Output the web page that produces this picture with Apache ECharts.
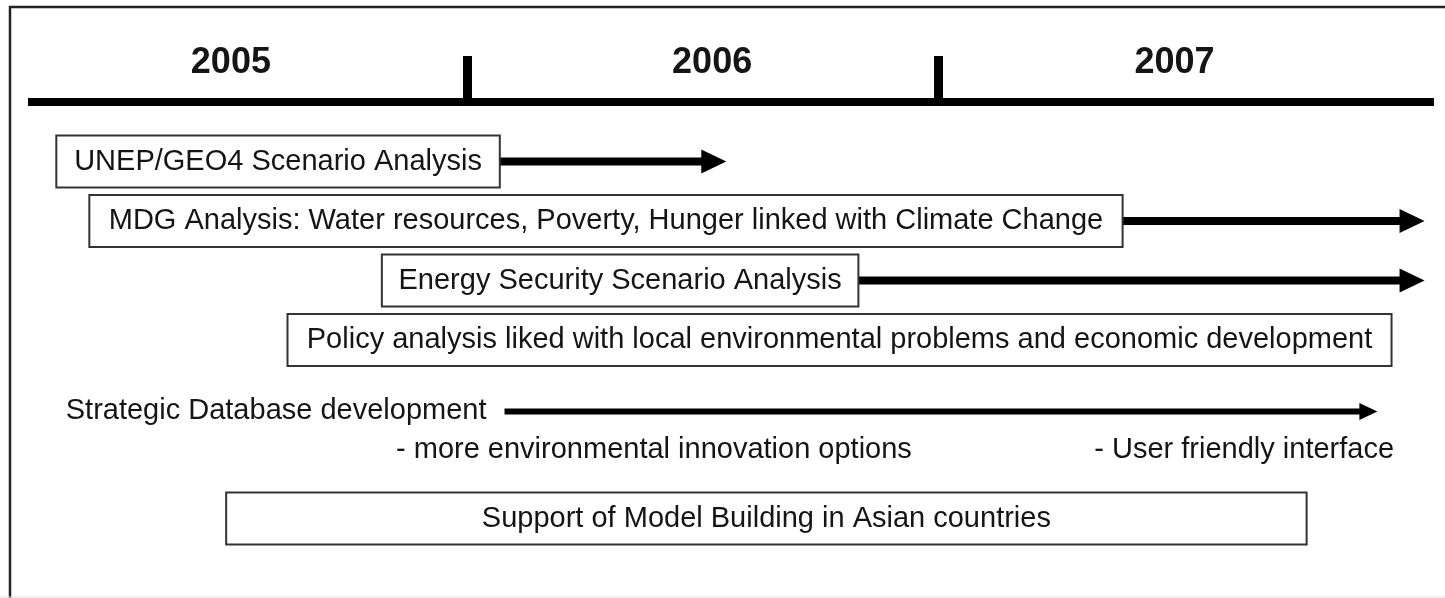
<!doctype html>
<html>
    <head>
        <meta charset="utf-8">
        <style>
            html, body { margin: 0; padding: 0; background: #fff; }
            #main { width: 1445px; height: 598px; }
        </style>
    </head>
    <body>
        <div id="main"></div>
        <script src="https://cdn.jsdelivr.net/npm/echarts@6/dist/echarts.min.js"></script>
        <script>
            // timeline axis, in fractional years
            var axisRange = [2005.07, 2008.05];
            var yearTicks = [2006, 2007];
            var yearLabels = ['2005', '2006', '2007'];
            var yearLabelPos = [2005.5, 2006.52, 2007.5];
            var yearLabelLane = -0.66;

            // boxed activities
            var taskNames = [
                'UNEP/GEO4 Scenario Analysis',
                'MDG Analysis: Water resources, Poverty, Hunger linked with Climate Change',
                'Energy Security Scenario Analysis',
                'Policy analysis liked with local environmental problems and economic development',
                'Support of Model Building in Asian countries'
            ];
            var taskLane = [1, 2, 3, 4, 7];
            var taskStart = [2005.13, 2005.2, 2005.82, 2005.62, 2005.49];
            var taskEnd = [2006.07, 2007.39, 2006.83, 2007.96, 2007.78];
            var taskArrowEnd = [2006.55, 2008.03, 2008.03, null, null];

            // database row
            var dbLabel = 'Strategic Database development';
            var dbLane = 5.2;
            var dbLabelStart = 2005.15;
            var dbArrow = [2006.08, 2007.93];
            var noteTexts = ['- more environmental innovation options', '- User friendly interface'];
            var notePos = [2005.85, 2007.33];
            var noteLane = 5.85;

            var FAMILY = '"Liberation Sans", Arial, sans-serif';
            var FONT = '29px ' + FAMILY;
            var INK = '#151515';

            function arrowShape(x0, x1, y, t, headLen, headHalf) {
                var xh = x1 - headLen;
                return {
                    type: 'polygon',
                    shape: {
                        points: [
                            [x0, y - t / 2], [xh, y - t / 2], [xh, y - headHalf], [x1, y],
                            [xh, y + headHalf], [xh, y + t / 2], [x0, y + t / 2]
                        ]
                    },
                    style: { fill: '#000' }
                };
            }

            var taskData = [];
            for (var i = 0; i < taskNames.length; i++) {
                taskData.push([taskStart[i], taskEnd[i], taskLane[i]]);
            }

            function renderTask(params, api) {
                var i = params.dataIndex;
                var lane = api.value(2);
                var p0 = api.coord([api.value(0), lane]);
                var p1 = api.coord([api.value(1), lane]);
                var h = 52;
                var children = [];
                if (taskArrowEnd[i] != null) {
                    var pe = api.coord([taskArrowEnd[i], lane]);
                    children.push(arrowShape(p1[0], pe[0], p1[1], 8, 25, 12));
                }
                children.push({
                    type: 'rect',
                    shape: { x: p0[0], y: p0[1] - h / 2, width: p1[0] - p0[0], height: h },
                    style: { fill: '#fff', stroke: '#333', lineWidth: 2 }
                });
                children.push({
                    type: 'text',
                    style: {
                        text: taskNames[i], x: (p0[0] + p1[0]) / 2, y: p0[1],
                        align: 'center', verticalAlign: 'middle', font: FONT, fill: INK
                    }
                });
                return { type: 'group', children: children };
            }

            function renderDb(params, api) {
                var pl = api.coord([api.value(0), api.value(3)]);
                var pa = api.coord([api.value(1), api.value(3)]);
                var pb = api.coord([api.value(2), api.value(3)]);
                return {
                    type: 'group',
                    children: [
                        {
                            type: 'text',
                            style: {
                                text: dbLabel, x: pl[0], y: pl[1],
                                align: 'left', verticalAlign: 'middle', font: FONT, fill: INK
                            }
                        },
                        arrowShape(pa[0], pb[0], pa[1], 6, 18, 8.5)
                    ]
                };
            }

            function renderNote(params, api) {
                var p = api.coord([api.value(0), api.value(1)]);
                return {
                    type: 'text',
                    style: {
                        text: noteTexts[params.dataIndex], x: p[0], y: p[1],
                        align: 'left', verticalAlign: 'middle', font: FONT, fill: INK
                    }
                };
            }

            function renderYear(params, api) {
                var p = api.coord([api.value(0), api.value(1)]);
                return {
                    type: 'text',
                    style: {
                        text: yearLabels[params.dataIndex], x: p[0], y: p[1],
                        align: 'center', verticalAlign: 'middle',
                        font: 'bold 36px ' + FAMILY, fill: INK
                    }
                };
            }

            var chart = echarts.init(document.getElementById('main'));

            chart.setOption({
                backgroundColor: '#fff',
                animation: false,
                graphic: [
                    {
                        type: 'rect',
                        shape: { x: 10, y: 7, width: 1450, height: 620 },
                        style: { fill: 'none', stroke: '#222', lineWidth: 2.5 }
                    },
                    {
                        type: 'line',
                        shape: { x1: 0, y1: 597, x2: 1445, y2: 597 },
                        style: { stroke: '#e2e2e2', lineWidth: 1 }
                    }
                ],
                grid: { left: 28, right: 11, top: 102, bottom: 20 },
                xAxis: {
                    type: 'value',
                    position: 'top',
                    min: axisRange[0],
                    max: axisRange[1],
                    splitLine: { show: false },
                    axisLine: { show: true, lineStyle: { color: '#000', width: 8, cap: 'butt' } },
                    axisTick: {
                        show: true,
                        customValues: yearTicks,
                        inside: false,
                        length: 46,
                        lineStyle: { color: '#000', width: 9 }
                    },
                    axisLabel: { show: false }
                },
                yAxis: {
                    type: 'value',
                    inverse: true,
                    min: 0,
                    max: 8,
                    show: false
                },
                series: [
                    {
                        type: 'custom',
                        renderItem: renderYear,
                        data: yearLabelPos.map(function (x) { return [x, yearLabelLane]; }),
                        clip: false,
                        encode: { x: 0, y: 1 }
                    },
                    {
                        type: 'custom',
                        renderItem: renderTask,
                        data: taskData,
                        clip: false,
                        encode: { x: [0, 1], y: 2 }
                    },
                    {
                        type: 'custom',
                        renderItem: renderDb,
                        data: [[dbLabelStart, dbArrow[0], dbArrow[1], dbLane]],
                        clip: false,
                        encode: { x: [0, 1, 2], y: 3 }
                    },
                    {
                        type: 'custom',
                        renderItem: renderNote,
                        data: notePos.map(function (x) { return [x, noteLane]; }),
                        clip: false,
                        encode: { x: 0, y: 1 }
                    }
                ]
            });

            window.addEventListener('resize', function () {
                chart.resize();
            });
        </script>
    </body>
</html>
